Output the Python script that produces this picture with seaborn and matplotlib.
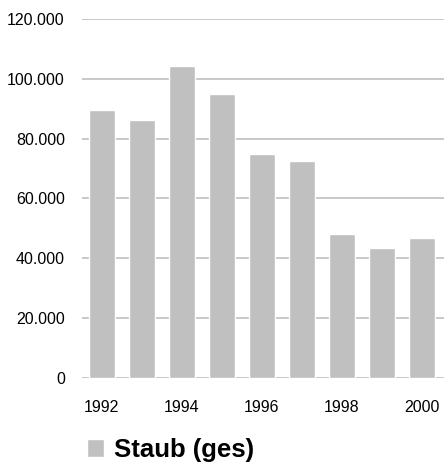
import matplotlib
matplotlib.use("Agg")
import matplotlib.pyplot as plt
import seaborn as sns
import pandas as pd
from matplotlib.ticker import FuncFormatter

years = ["1992", "1993", "1994", "1995", "1996", "1997", "1998", "1999", "2000"]
staub = [89600, 86200, 104200, 95000, 75000, 72400, 48300, 43600, 46800]
series_name = "Staub (ges)"
y_ticks = [0, 20000, 40000, 60000, 80000, 100000, 120000]
x_tick_labels = ["1992", "", "1994", "", "1996", "", "1998", "", "2000"]

df = pd.DataFrame({"Jahr": years, "Wert": staub, "Serie": series_name})

sns.set_theme(style="white")
plt.rcParams["font.family"] = ["Liberation Sans", "DejaVu Sans"]
plt.rcParams["text.color"] = "black"

fig = plt.figure(figsize=(4.44, 4.66), dpi=100)
ax = fig.add_axes([81.5 / 444, (466 - 378) / 466, (443.5 - 81.5) / 444, (378 - 19) / 466])

sns.barplot(data=df, x="Jahr", y="Wert", hue="Serie", palette=["#c0c0c0"],
            width=0.65, saturation=1, ax=ax, zorder=3, legend=True)

ax.set_ylim(0, 120000)
ax.set_xlim(-0.51, 8.55)
ax.set_yticks(y_ticks)
ax.yaxis.set_major_formatter(FuncFormatter(lambda v, p: f"{int(v):,}".replace(",", ".")))
ax.set_xticks(range(len(years)))
ax.set_xticklabels(x_tick_labels)
ax.grid(axis="y", color="#c4c4c4", linewidth=1.3, zorder=0)
ax.set_axisbelow(True)
for s in ax.spines.values():
    s.set_visible(False)
ax.tick_params(axis="y", length=0, pad=12, labelsize=11.5, labelcolor="#000000")
ax.tick_params(axis="x", length=0, pad=16, labelsize=11.5, labelcolor="#000000")
ax.set_xlabel("")
ax.set_ylabel("")

leg = ax.legend(loc="center left", bbox_to_anchor=(87 / 444, 1 - 450 / 466),
                bbox_transform=fig.transFigure, frameon=False,
                prop={"weight": "bold", "size": 18.5},
                handlelength=0.68, handleheight=0.68, handletextpad=0.38,
                borderaxespad=0, borderpad=0)
for t in leg.get_texts():
    t.set_color("black")

fig.savefig("out.png", dpi=100)
